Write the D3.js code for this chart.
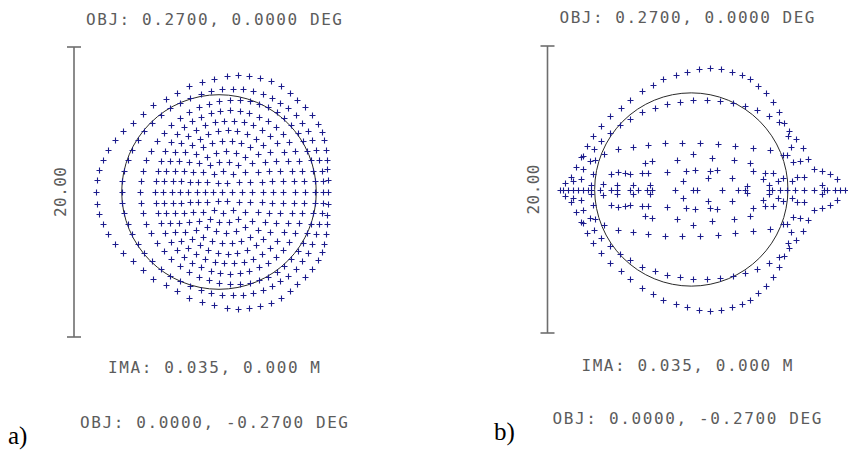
<!DOCTYPE html>
<html>
<head>
<meta charset="utf-8">
<script src="https://cdn.jsdelivr.net/npm/d3@7"></script>
<style>
  body { margin: 0; background: #fff; }
</style>
</head>
<body>
<div id="chart"></div>
<script>
// spot positions in micrometres, relative to the chief ray, y pointing up

// ---- panel a ----
var spotA_chief = [[0.20,0]];
var spotA_r1 = [[-0.39,0],[-0.08,0.60],[0.56,0.60],[0.87,0],[0.56,-0.60],[-0.08,-0.60]];
var spotA_r2 = [[-0.97,0],[-0.80,0.72],[-0.34,1.24],[0.30,1.43],[0.94,1.24],[1.40,0.72],[1.57,0],[1.40,-0.72],[0.94,-1.24],[0.30,-1.43],[-0.34,-1.24],[-0.80,-0.72]];
var spotA_r3 = [[-1.54,0],[-1.43,0.72],[-1.10,1.36],[-0.59,1.83],[0.03,2.08],[0.69,2.08],[1.31,1.83],[1.82,1.36],[2.15,0.72],[2.26,0],
  [2.15,-0.72],[1.82,-1.36],[1.31,-1.83],[0.69,-2.08],[0.03,-2.08],[-0.59,-1.83],[-1.10,-1.36],[-1.43,-0.72]];
var spotA_r4 = [[-2.11,0],[-2.02,0.72],[-1.76,1.40],[-1.35,1.98],[-0.82,2.42],[-0.20,2.70],[0.47,2.80],[1.14,2.70],[1.76,2.42],[2.29,1.98],[2.70,1.40],[2.96,0.72],[3.05,0],
  [2.96,-0.72],[2.70,-1.40],[2.29,-1.98],[1.76,-2.42],[1.14,-2.70],[0.47,-2.80],[-0.20,-2.70],[-0.82,-2.42],[-1.35,-1.98],[-1.76,-1.40],[-2.02,-0.72]];
var spotA_r5 = [[-2.69,0],[-2.62,0.74],[-2.41,1.45],[-2.08,2.09],[-1.62,2.65],[-1.08,3.08],[-0.47,3.39],[0.19,3.54],[0.87,3.54],[1.53,3.39],[2.14,3.08],[2.68,2.65],[3.14,2.09],[3.47,1.45],[3.68,0.74],[3.75,0],
  [3.68,-0.74],[3.47,-1.45],[3.14,-2.09],[2.68,-2.65],[2.14,-3.08],[1.53,-3.39],[0.87,-3.54],[0.19,-3.54],[-0.47,-3.39],[-1.08,-3.08],[-1.62,-2.65],[-2.08,-2.09],[-2.41,-1.45],[-2.62,-0.74]];
var spotA_r6 = [[-3.26,0],[-3.20,0.74],[-3.03,1.45],[-2.74,2.13],[-2.36,2.73],[-1.88,3.26],[-1.34,3.68],[-0.73,3.99],[-0.08,4.19],[0.59,4.25],[1.26,4.19],[1.91,3.99],[2.52,3.68],[3.06,3.26],[3.54,2.73],[3.92,2.13],[4.21,1.45],[4.38,0.74],[4.44,0],
  [4.38,-0.74],[4.21,-1.45],[3.92,-2.13],[3.54,-2.73],[3.06,-3.26],[2.52,-3.68],[1.91,-3.99],[1.26,-4.19],[0.59,-4.25],[-0.08,-4.19],[-0.73,-3.99],[-1.34,-3.68],[-1.88,-3.26],[-2.36,-2.73],[-2.74,-2.13],[-3.03,-1.45],[-3.20,-0.74]];
var spotA_r7 = [[-3.84,0],[-3.79,0.74],[-3.64,1.46],[-3.39,2.14],[-3.05,2.78],[-2.63,3.36],[-2.13,3.86],[-1.57,4.28],[-0.96,4.60],[-0.31,4.82],[0.36,4.93],[1.04,4.93],[1.71,4.82],[2.36,4.60],[2.97,4.28],[3.53,3.86],[4.03,3.36],[4.45,2.78],[4.79,2.14],[5.04,1.46],[5.19,0.74],[5.24,0],
  [5.19,-0.74],[5.04,-1.46],[4.79,-2.14],[4.45,-2.78],[4.03,-3.36],[3.53,-3.86],[2.97,-4.28],[2.36,-4.60],[1.71,-4.82],[1.04,-4.93],[0.36,-4.93],[-0.31,-4.82],[-0.96,-4.60],[-1.57,-4.28],[-2.13,-3.86],[-2.63,-3.36],[-3.05,-2.78],[-3.39,-2.14],[-3.64,-1.46],[-3.79,-0.74]];
var spotA_r8 = [[-4.41,0],[-4.37,0.73],[-4.23,1.46],[-4.02,2.15],[-3.72,2.82],[-3.34,3.43],[-2.90,3.98],[-2.39,4.47],[-1.83,4.88],[-1.22,5.20],[-0.58,5.44],[0.09,5.58],[0.76,5.63],[1.43,5.58],[2.10,5.44],[2.74,5.20],[3.35,4.88],[3.91,4.47],[4.42,3.98],[4.86,3.43],[5.24,2.82],[5.54,2.15],[5.75,1.46],[5.89,0.73],[5.93,0],
  [5.89,-0.73],[5.75,-1.46],[5.54,-2.15],[5.24,-2.82],[4.86,-3.43],[4.42,-3.98],[3.91,-4.47],[3.35,-4.88],[2.74,-5.20],[2.10,-5.44],[1.43,-5.58],[0.76,-5.63],[0.09,-5.58],[-0.58,-5.44],[-1.22,-5.20],[-1.83,-4.88],[-2.39,-4.47],[-2.90,-3.98],[-3.34,-3.43],[-3.72,-2.82],[-4.02,-2.15],[-4.23,-1.46],[-4.37,-0.73]];
var spotA_r9 = [[-5.44,0],[-5.39,0.74],[-5.25,1.47],[-5.02,2.18],[-4.70,2.86],[-4.30,3.50],[-3.82,4.09],[-3.29,4.63],[-2.69,5.11],[-2.05,5.52],[-1.38,5.85],[-0.68,6.10],[0.03,6.27],[0.74,6.36],[1.44,6.36],[2.13,6.27],[2.78,6.10],[3.40,5.85],[3.98,5.52],[4.51,5.11],[4.99,4.63],[5.42,4.09],[5.78,3.50],[6.08,2.86],[6.32,2.18],[6.49,1.47],[6.59,0.74],[6.62,0],
  [6.59,-0.74],[6.49,-1.47],[6.32,-2.18],[6.08,-2.86],[5.78,-3.50],[5.42,-4.09],[4.99,-4.63],[4.51,-5.11],[3.98,-5.52],[3.40,-5.85],[2.78,-6.10],[2.13,-6.27],[1.44,-6.36],[0.74,-6.36],[0.03,-6.27],[-0.68,-6.10],[-1.38,-5.85],[-2.05,-5.52],[-2.69,-5.11],[-3.29,-4.63],[-3.82,-4.09],[-4.30,-3.50],[-4.70,-2.86],[-5.02,-2.18],[-5.25,-1.47],[-5.39,-0.74]];
var spotA_r10 = [[-6.71,0],[-6.66,0.75],[-6.53,1.48],[-6.30,2.20],[-5.99,2.90],[-5.60,3.57],[-5.14,4.19],[-4.61,4.77],[-4.02,5.30],[-3.39,5.77],[-2.71,6.17],[-2.00,6.51],[-1.27,6.78],[-0.54,6.97],[0.21,7.09],[0.94,7.13],[1.66,7.09],[2.36,6.97],[3.02,6.78],[3.65,6.51],[4.24,6.17],[4.78,5.77],[5.28,5.30],[5.72,4.77],[6.11,4.19],[6.43,3.57],[6.71,2.90],[6.92,2.20],[7.07,1.48],[7.16,0.75],[7.19,0],
  [7.16,-0.75],[7.07,-1.48],[6.92,-2.20],[6.71,-2.90],[6.43,-3.57],[6.11,-4.19],[5.72,-4.77],[5.28,-5.30],[4.78,-5.77],[4.24,-6.17],[3.65,-6.51],[3.02,-6.78],[2.36,-6.97],[1.66,-7.09],[0.94,-7.13],[0.21,-7.09],[-0.54,-6.97],[-1.27,-6.78],[-2.00,-6.51],[-2.71,-6.17],[-3.39,-5.77],[-4.02,-5.30],[-4.61,-4.77],[-5.14,-4.19],[-5.60,-3.57],[-5.99,-2.90],[-6.30,-2.20],[-6.53,-1.48],[-6.66,-0.75]];
var spotA_r11 = [[-8.51,0],[-8.44,0.80],[-8.28,1.49],[-7.98,2.18],[-7.63,2.87],[-7.17,3.56],[-6.60,4.21],[-5.95,4.78],[-5.22,5.40],[-4.53,5.98],[-3.66,6.44],[-2.87,6.85],[-2.07,7.29],[-1.20,7.56],[-0.32,7.79],[0.53,7.98],[1.29,8.05],[2.09,7.98],[2.83,7.89],[3.59,7.66],[4.28,7.29],[4.90,6.85],[5.40,6.37],[5.93,5.86],[6.39,5.29],[6.80,4.71],[7.08,4.14],[7.26,3.56],[7.38,2.92],[7.43,2.23],[7.47,1.61],[7.49,0.85],[7.52,0],
  [7.49,-0.85],[7.47,-1.61],[7.43,-2.23],[7.38,-2.92],[7.26,-3.56],[7.08,-4.14],[6.80,-4.71],[6.39,-5.29],[5.93,-5.86],[5.40,-6.37],[4.90,-6.85],[4.28,-7.29],[3.59,-7.66],[2.83,-7.89],[2.09,-7.98],[1.29,-8.05],[0.53,-7.98],[-0.32,-7.79],[-1.20,-7.56],[-2.07,-7.29],[-2.87,-6.85],[-3.66,-6.44],[-4.53,-5.98],[-5.22,-5.40],[-5.95,-4.78],[-6.60,-4.21],[-7.17,-3.56],[-7.63,-2.87],[-7.98,-2.18],[-8.28,-1.49],[-8.44,-0.80]];

// ---- panel b ----
var spotB_axis = [[-9.15,0],[-8.92,0],[-8.57,0],[-8.22,0],[-7.87,0],[-7.53,0],[-7.18,0],[-6.95,0],[-6.36,0],[-5.55,0],[-5.20,0],[-4.27,0],[-3.69,0],[-3.11,0],[-2.76,0],[-1.14,0],[0.14,0],[0.37,0],[2.11,0],[3.28,0],[3.74,0],[5.37,0],[5.60,0],[6.18,0],[6.64,0],[7.22,0],[7.81,0],[8.50,0],[9.20,0],[9.43,0],[10.01,0],[10.36,0],[10.71,0]];
var spotB_outer = [[-8.80,0.44],[-8.34,0.86],[-7.99,1.56],[-7.64,2.25],[-7.25,3.04],[-6.83,3.74],[-6.25,4.44],[-5.62,5.13],[-4.92,5.71],[-4.27,6.25],[-3.46,6.83],[-2.69,7.29],[-1.95,7.69],[-1.07,7.99],[-0.28,8.22],[0.53,8.39],[1.30,8.46],[2.07,8.39],[2.81,8.22],[3.51,7.99],[4.09,7.69],[4.67,7.22],[5.20,6.71],[5.67,6.09],[6.11,5.37],[6.48,4.62],[6.76,4.11],[7.29,3.51],[7.76,2.88],[8.15,2.15],[8.50,1.46],[9.08,1.32],[9.66,1.05],[10.13,0.70],
  [-8.80,-0.44],[-8.34,-0.86],[-7.99,-1.56],[-7.64,-2.25],[-7.25,-3.04],[-6.83,-3.74],[-6.25,-4.44],[-5.62,-5.13],[-4.92,-5.71],[-4.27,-6.25],[-3.46,-6.83],[-2.69,-7.29],[-1.95,-7.69],[-1.07,-7.99],[-0.28,-8.22],[0.53,-8.39],[1.30,-8.46],[2.07,-8.39],[2.81,-8.22],[3.51,-7.99],[4.09,-7.69],[4.67,-7.22],[5.20,-6.71],[5.67,-6.09],[6.11,-5.37],[6.48,-4.62],[6.76,-4.11],[7.29,-3.51],[7.76,-2.88],[8.15,-2.15],[8.50,-1.46],[9.08,-1.32],[9.66,-1.05],[10.13,-0.70]];
var spotB_middle = [[-6.76,2.81],[-6.25,3.41],[-5.67,3.97],[-4.97,4.51],[-4.27,4.90],[-3.46,5.37],[-2.53,5.71],[-1.72,5.97],[-0.79,6.13],[0.14,6.25],[1.07,6.25],[2.00,6.20],[2.88,6.06],[3.74,5.83],[4.55,5.51],[5.37,5.13],[6.13,4.67],[6.69,3.74],[6.92,2.95],[6.41,2.39],[7.06,1.93],[7.53,2.02],[-7.53,2.32],[-7.06,2.02],[-6.71,2.09],[-6.09,2.49],
  [-6.76,-2.81],[-6.25,-3.41],[-5.67,-3.97],[-4.97,-4.51],[-4.27,-4.90],[-3.46,-5.37],[-2.53,-5.71],[-1.72,-5.97],[-0.79,-6.13],[0.14,-6.25],[1.07,-6.25],[2.00,-6.20],[2.88,-6.06],[3.74,-5.83],[4.55,-5.51],[5.37,-5.13],[6.13,-4.67],[6.69,-3.74],[6.92,-2.95],[6.41,-2.39],[7.06,-1.93],[7.53,-2.02],[-7.53,-2.32],[-7.06,-2.02],[-6.71,-2.09],[-6.09,-2.49]];
var spotB_inner = [[-5.09,2.81],[-4.04,2.95],[-3.04,3.11],[-1.84,3.23],[-0.67,3.23],[0.60,3.23],[1.88,3.16],[3.04,3.00],[4.27,2.88],[5.44,2.76],[6.64,2.42],
  [-3.23,1.86],[-2.76,2.02],[-1.02,2.09],[0.09,2.49],[1.46,2.21],[3.00,2.09],[4.09,1.86],
  [-7.53,1.46],[-6.83,1.05],[-5.55,1.09],[-5.09,1.23],[-4.62,1.16],[-4.27,1.09],[-3.46,1.16],[-3.00,1.16],[-1.72,1.23],[-0.37,1.32],[0.26,1.39],[1.30,1.32],[1.77,1.39],[2.81,0.81],[1.18,0.79],[4.27,1.32],[5.13,1.16],[5.02,0.70],[5.71,1.16],[6.06,0.58],[6.41,0.81],[6.99,0.58],[7.34,0.86],[7.81,0.86],[-7.64,0.70],[-8.22,0.58],
  [-0.56,0.58],[-6.13,0.35],[-5.20,0.30],[-4.04,0.30],[-2.88,0.30],[3.86,0.23],[5.37,0.30],[9.08,0.30],[-6.95,0.30],
  [-5.09,-2.81],[-4.04,-2.95],[-3.04,-3.11],[-1.84,-3.23],[-0.67,-3.23],[0.60,-3.23],[1.88,-3.16],[3.04,-3.00],[4.27,-2.88],[5.44,-2.76],[6.64,-2.42],
  [-3.23,-1.86],[-2.76,-2.02],[-1.02,-2.09],[0.09,-2.49],[1.46,-2.21],[3.00,-2.09],[4.09,-1.86],
  [-7.53,-1.46],[-6.83,-1.05],[-5.55,-1.09],[-5.09,-1.23],[-4.62,-1.16],[-4.27,-1.09],[-3.46,-1.16],[-3.00,-1.16],[-1.72,-1.23],[-0.37,-1.32],[0.26,-1.39],[1.30,-1.32],[1.77,-1.39],[2.81,-0.81],[1.18,-0.79],[4.27,-1.32],[5.13,-1.16],[5.02,-0.70],[5.71,-1.16],[6.06,-0.58],[6.41,-0.81],[6.99,-0.58],[7.34,-0.86],[7.81,-0.86],[-7.64,-0.70],[-8.22,-0.58],
  [-0.56,-0.58],[-6.13,-0.35],[-5.20,-0.30],[-4.04,-0.30],[-2.88,-0.30],[3.86,-0.23],[5.37,-0.30],[9.08,-0.30],[-6.95,-0.30]];

// airy radius (um) and scale bar length (um)
var airyRadius = [6.71, 6.72];
var scaleBarUm = 20;
var scaleBarLabel = "20.00";
var objTopLabel = "OBJ: 0.2700, 0.0000 DEG";
var imaLabel = "IMA: 0.035, 0.000 M";
var objBottomLabel = "OBJ: 0.0000, -0.2700 DEG";
var panelLetters = ["a)", "b)"];

var spotsA = [].concat(spotA_chief, spotA_r1, spotA_r2, spotA_r3, spotA_r4, spotA_r5, spotA_r6,
                       spotA_r7, spotA_r8, spotA_r9, spotA_r10, spotA_r11);
var spotsB = [].concat(spotB_axis, spotB_outer, spotB_middle, spotB_inner);

var svg = d3.select("#chart")
  .append("svg")
  .attr("width", 848)
  .attr("height", 452)
  .style("background", "#fff");

var fontMono = "'DejaVu Sans Mono', 'Liberation Mono', monospace";
var textGrey = "#5c5c5c";
var arm = 3;

// one panel = scale bar + airy circle + crosses + three label lines
function drawPanel(p) {
  var x = d3.scaleLinear().domain([-scaleBarUm / 2, scaleBarUm / 2]).range(p.xRange);
  var y = d3.scaleLinear().domain([-scaleBarUm / 2, scaleBarUm / 2]).range(p.yRange);
  var g = svg.append("g");

  // scale bar
  var bx = x(-scaleBarUm / 2);
  g.append("line")
    .attr("x1", bx).attr("x2", bx)
    .attr("y1", y(scaleBarUm / 2)).attr("y2", y(-scaleBarUm / 2))
    .style("stroke", "#6e6e6e")
    .style("stroke-width", 1.6);
  [scaleBarUm / 2, -scaleBarUm / 2].forEach(function(v) {
    g.append("line")
      .attr("x1", bx - 7).attr("x2", bx + 7)
      .attr("y1", y(v)).attr("y2", y(v))
      .style("stroke", "#6e6e6e")
      .style("stroke-width", 1.6);
  });
  g.append("text")
    .text(scaleBarLabel)
    .attr("transform", "translate(" + (p.barLabelX) + "," + y(0) + ") rotate(-90)")
    .attr("text-anchor", "middle")
    .attr("dy", "0.36em")
    .attr("textLength", 50)
    .attr("lengthAdjust", "spacing")
    .style("font-family", fontMono)
    .style("font-size", "16px")
    .style("fill", textGrey);

  // airy disk
  g.append("circle")
    .attr("cx", x(0))
    .attr("cy", y(0))
    .attr("r", x(p.airy) - x(0))
    .style("fill", "none")
    .style("stroke", "#2a2a2a")
    .style("stroke-width", 1);

  // spots
  g.append("g")
    .selectAll("path")
    .data(p.spots)
    .enter()
    .append("path")
    .attr("d", function(d) {
      var cx = Math.round(x(d[0])) + 0.5, cy = Math.round(y(d[1])) + 0.5;
      return "M" + (cx - arm) + "," + cy + "H" + (cx + arm) + "M" + cx + "," + (cy - arm) + "V" + (cy + arm);
    })
    .style("stroke", "#1c1c8c")
    .style("stroke-width", 1.1)
    .style("fill", "none");

  // labels
  var labels = [[objTopLabel, p.base[0], p.len[0]], [imaLabel, p.base[1], p.len[1]], [objBottomLabel, p.base[2], p.len[2]]];
  g.selectAll("text.lbl")
    .data(labels)
    .enter()
    .append("text")
    .attr("class", "lbl")
    .text(function(d) { return d[0]; })
    .attr("x", p.textX)
    .attr("y", function(d) { return d[1]; })
    .attr("text-anchor", "middle")
    .attr("textLength", function(d) { return d[2]; })
    .attr("lengthAdjust", "spacing")
    .style("font-family", fontMono)
    .style("font-size", "16px")
    .style("fill", textGrey);

  g.append("text")
    .text(p.letter)
    .attr("x", p.letterPos[0])
    .attr("y", p.letterPos[1])
    .style("font-family", "'Liberation Serif', 'Times New Roman', serif")
    .style("font-size", "25px")
    .style("fill", "#000");
}

drawPanel({
  spots: spotsA, airy: airyRadius[0], letter: panelLetters[0],
  xRange: [74, 364], yRange: [337, 47],
  barLabelX: 60, textX: 214, base: [25, 373, 428], len: [256, 212, 268],
  letterPos: [8, 444]
});

drawPanel({
  spots: spotsB, airy: airyRadius[1], letter: panelLetters[1],
  xRange: [547.5, 835.1], yRange: [333, 46],
  barLabelX: 533, textX: 687, base: [23, 371, 424], len: [255, 211, 269],
  letterPos: [494, 440]
});
</script>
</body>
</html>
